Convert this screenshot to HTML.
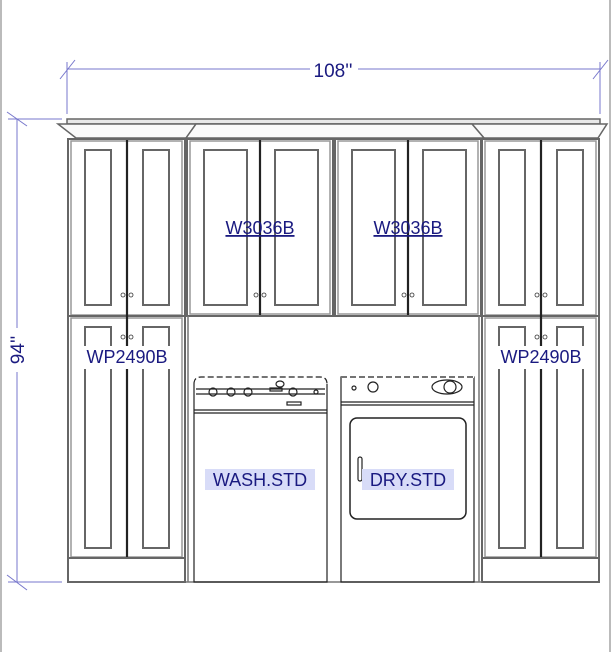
<!DOCTYPE html>
<html><head><meta charset="utf-8"><style>
html,body{margin:0;padding:0;background:#fff}
svg{display:block}
text{font-family:"Liberation Sans",sans-serif}
</style></head><body>
<svg width="612" height="652" viewBox="0 0 612 652" xmlns="http://www.w3.org/2000/svg">
<rect x="0" y="0" width="612" height="652" fill="#fff"/>
<line x1="1" y1="0" x2="1" y2="652" stroke="#bbb" stroke-width="2"/>
<line x1="610" y1="0" x2="610" y2="652" stroke="#bbb" stroke-width="2"/>
<g stroke="#7777cc" stroke-width="1" fill="none">
<line x1="67" y1="69" x2="600" y2="69"/>
<line x1="67" y1="62" x2="67" y2="114"/>
<line x1="600" y1="62" x2="600" y2="114"/>
<line x1="60" y1="79" x2="75" y2="60"/>
<line x1="593" y1="79" x2="608" y2="60"/>
<line x1="17" y1="119" x2="17" y2="582"/>
<line x1="8" y1="119" x2="62" y2="119"/>
<line x1="8" y1="582" x2="62" y2="582"/>
<line x1="7" y1="112" x2="27" y2="126"/>
<line x1="7" y1="575" x2="27" y2="590"/>
</g>
<rect x="310" y="59" width="48" height="20" fill="#fff"/>
<text x="333" y="77" font-size="19" fill="#1a1a80" text-anchor="middle">108''</text>
<rect x="8" y="328" width="20" height="44" fill="#fff"/>
<text transform="translate(24,350) rotate(-90)" font-size="19" fill="#1a1a80" text-anchor="middle">94''</text>
<g stroke="#666" fill="#f4f4f4" stroke-width="1.5">
<rect x="67" y="119" width="533" height="5" fill="#e8e8e8"/>
<path d="M58 124 L607 124 L598 138 L484 138 L472 124 L196 124 L186 138 L76 138 Z" fill="#fafafa"/>
<path d="M186 138 L196 124 L472 124 L484 138 Z" fill="#fafafa"/>
</g>
<g fill="none" stroke="#666" stroke-width="2">
<rect x="68" y="139" width="117" height="443"/>
<rect x="71" y="141" width="111" height="174" stroke="#999" stroke-width="1.5"/>
<rect x="71" y="318" width="111" height="239" stroke="#999" stroke-width="1.5"/>
<line x1="68" y1="316" x2="185" y2="316"/>
<line x1="68" y1="558" x2="185" y2="558"/>
<rect x="85" y="150" width="26" height="155"/>
<rect x="143" y="150" width="26" height="155"/>
<rect x="85" y="327" width="26" height="221"/>
<rect x="143" y="327" width="26" height="221"/>
<line x1="127" y1="140" x2="127" y2="557" stroke="#222" stroke-width="2.2"/>
<rect x="482" y="139" width="117" height="443"/>
<rect x="485" y="141" width="111" height="174" stroke="#999" stroke-width="1.5"/>
<rect x="485" y="318" width="111" height="239" stroke="#999" stroke-width="1.5"/>
<line x1="482" y1="316" x2="599" y2="316"/>
<line x1="482" y1="558" x2="599" y2="558"/>
<rect x="499" y="150" width="26" height="155"/>
<rect x="557" y="150" width="26" height="155"/>
<rect x="499" y="327" width="26" height="221"/>
<rect x="557" y="327" width="26" height="221"/>
<line x1="541" y1="140" x2="541" y2="557" stroke="#222" stroke-width="2.2"/>
<rect x="187" y="139" width="146" height="177"/>
<rect x="190" y="141" width="140" height="173" stroke="#999" stroke-width="1.5"/>
<rect x="204" y="150" width="43" height="155"/>
<rect x="275" y="150" width="43" height="155"/>
<line x1="260" y1="140" x2="260" y2="315" stroke="#222" stroke-width="2.2"/>
<rect x="335" y="139" width="146" height="177"/>
<rect x="338" y="141" width="140" height="173" stroke="#999" stroke-width="1.5"/>
<rect x="352" y="150" width="43" height="155"/>
<rect x="423" y="150" width="43" height="155"/>
<line x1="408" y1="140" x2="408" y2="315" stroke="#222" stroke-width="2.2"/>
<line x1="188" y1="316" x2="188" y2="582" stroke="#777" stroke-width="1.5"/>
<line x1="479" y1="316" x2="479" y2="582" stroke="#777" stroke-width="1.5"/>
<line x1="186" y1="582" x2="482" y2="582" stroke="#777" stroke-width="1.5"/>
</g>
<g fill="none" stroke="#222" stroke-width="1.2">
<path d="M194 582 L194 384 Q194 377 201 377 L320 377 Q327 377 327 384 L327 582 Z" stroke-dasharray="0"/>
<path d="M194 384 Q194 377 201 377 L320 377 Q327 377 327 384" stroke="#fff" stroke-width="2"/>
<path d="M194 384 Q194 377 201 377 L320 377 Q327 377 327 384" stroke-dasharray="6,3"/>
<line x1="194" y1="410" x2="327" y2="410"/>
<line x1="194" y1="413" x2="327" y2="413"/>
<line x1="196" y1="389" x2="325" y2="389"/>
<line x1="196" y1="394" x2="325" y2="394"/>
<circle cx="213" cy="392" r="4"/><circle cx="231" cy="392" r="4"/><circle cx="248" cy="392" r="4"/><circle cx="293" cy="392" r="4"/>
<circle cx="316" cy="392" r="2"/>
<ellipse cx="280" cy="384" rx="4" ry="3"/>
<rect x="270" y="388" width="12" height="3"/>
<rect x="287" y="402" width="14" height="3"/>
<rect x="341" y="377" width="133" height="205"/>
<line x1="341" y1="377" x2="474" y2="377" stroke="#fff" stroke-width="2"/>
<line x1="341" y1="377" x2="474" y2="377" stroke-dasharray="6,3"/>
<line x1="341" y1="402" x2="474" y2="402"/>
<line x1="341" y1="405" x2="474" y2="405"/>
<rect x="350" y="418" width="116" height="101" rx="7" stroke-width="1.5"/>
<rect x="358" y="457" width="4" height="24" rx="2"/>
<circle cx="373" cy="387" r="5"/>
<circle cx="354" cy="388" r="2"/>
<ellipse cx="447" cy="387" rx="15" ry="7"/>
<circle cx="450" cy="387" r="6"/>
</g>
<g font-size="18" fill="#1a1a80" text-anchor="middle">
<text x="260" y="234" text-decoration="underline">W3036B</text>
<text x="408" y="234" text-decoration="underline">W3036B</text>
<rect x="80" y="346" width="94" height="23" fill="#fff"/>
<text x="127" y="363">WP2490B</text>
<rect x="494" y="346" width="94" height="23" fill="#fff"/>
<text x="541" y="363">WP2490B</text>
<rect x="205" y="469" width="110" height="21" fill="#d8dcf8"/>
<text x="260" y="486">WASH.STD</text>
<rect x="362" y="469" width="92" height="21" fill="#d8dcf8"/>
<text x="408" y="486">DRY.STD</text>
</g>
<g fill="#fff" stroke="#333" stroke-width="0.8">
<circle cx="123" cy="295" r="2"/><circle cx="131" cy="295" r="2"/>
<circle cx="123" cy="337" r="2"/><circle cx="131" cy="337" r="2"/>
<circle cx="537" cy="295" r="2"/><circle cx="545" cy="295" r="2"/>
<circle cx="537" cy="337" r="2"/><circle cx="545" cy="337" r="2"/>
<circle cx="256" cy="295" r="2"/><circle cx="264" cy="295" r="2"/>
<circle cx="404" cy="295" r="2"/><circle cx="412" cy="295" r="2"/>
</g>
</svg>
</body></html>
